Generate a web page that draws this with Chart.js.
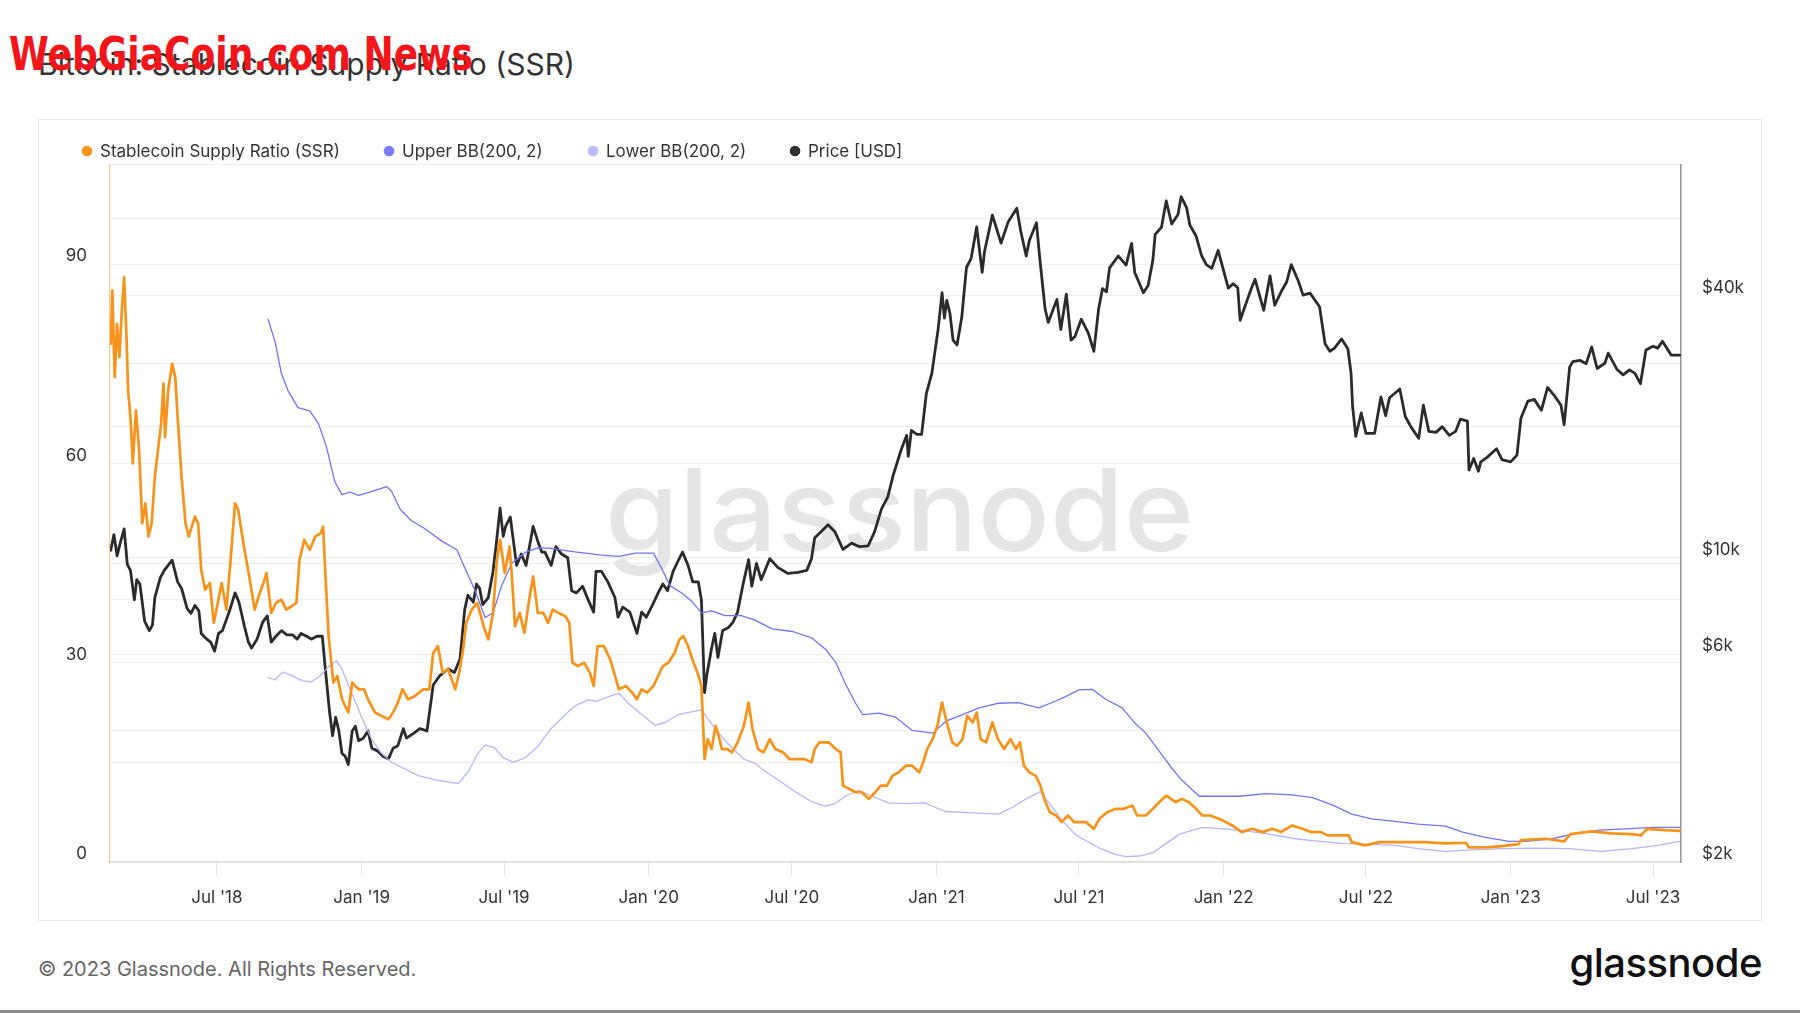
<!DOCTYPE html>
<html>
<head>
<meta charset="utf-8">
<title>Bitcoin: Stablecoin Supply Ratio (SSR)</title>
<script src="https://cdn.jsdelivr.net/npm/chart.js@4.4.0/dist/chart.umd.min.js"></script>
<style>
  html, body { margin: 0; padding: 0; background: #fff; }
  body { width: 1800px; height: 1013px; position: relative; overflow: hidden; font-family: Inter, 'Noto Sans', sans-serif; }
  #brand { position: absolute; left: 9px; top: 31px; font: bold 46px 'Liberation Sans Narrow', 'DejaVu Sans Condensed', sans-serif; line-height: 1; color: #f2161b; white-space: nowrap; transform-origin: left top; z-index: 5; }
  #title { position: absolute; left: 38px; top: 49px; font-size: 30px; line-height: 1; color: #333; white-space: nowrap; }
  #card { position: absolute; left: 38px; top: 119px; width: 1722px; height: 800px; border: 1px solid #e6e6e6; }
  #chartBox { position: absolute; left: 38px; top: 119px; width: 1724px; height: 802px; }
  #footer { position: absolute; left: 38px; top: 959px; font-size: 20px; line-height: 1; color: #666; white-space: nowrap; }
  #logo { position: absolute; right: 38px; top: 943px; font-size: 40px; font-weight: 500; line-height: 1; color: #111; letter-spacing: -0.5px; }
  #bottomLine { position: absolute; left: 0; top: 1010px; width: 1800px; height: 3px; background: #8a8a8a; }
</style>
</head>
<body>
<div id="title">Bitcoin: Stablecoin Supply Ratio (SSR)</div>
<div id="brand">WebGiaCoin.com News</div>
<div id="card"></div>
<div id="chartBox"><canvas id="ssrChart"></canvas></div>
<div id="footer">© 2023 Glassnode. All Rights Reserved.</div>
<div id="logo">glassnode</div>
<div id="bottomLine"></div>

<script>
// Stablecoin Supply Ratio (left axis)
const ssrDates = [
  '2018-02-16','2018-02-18','2018-02-21','2018-02-24','2018-02-27','2018-03-02','2018-03-05','2018-03-08','2018-03-10','2018-03-13',
  '2018-03-16','2018-03-20','2018-03-24','2018-03-28','2018-04-01','2018-04-05','2018-04-09','2018-04-13','2018-04-17','2018-04-21',
  '2018-04-24','2018-04-26','2018-04-30','2018-05-05','2018-05-09','2018-05-12','2018-05-17','2018-05-22','2018-05-26','2018-06-03',
  '2018-06-07','2018-06-11','2018-06-16','2018-06-22','2018-06-27','2018-07-02','2018-07-07','2018-07-13','2018-07-18','2018-07-24',
  '2018-07-28','2018-08-05','2018-08-11','2018-08-18','2018-08-23','2018-08-29','2018-09-02','2018-09-08','2018-09-14','2018-09-21',
  '2018-09-27','2018-10-04','2018-10-10','2018-10-14','2018-10-20','2018-10-27','2018-11-03','2018-11-10','2018-11-13','2018-11-16',
  '2018-11-20','2018-11-26','2018-12-01','2018-12-07','2018-12-15','2018-12-20','2018-12-28',
  '2019-01-04','2019-01-09','2019-01-18','2019-01-26','2019-02-04','2019-02-10','2019-02-16','2019-02-22','2019-03-01','2019-03-10',
  '2019-03-20','2019-03-28','2019-04-02','2019-04-08','2019-04-14','2019-04-21','2019-04-30','2019-05-05','2019-05-10','2019-05-14',
  '2019-05-21','2019-05-28','2019-06-05','2019-06-11','2019-06-17','2019-06-22','2019-06-26','2019-07-02','2019-07-08','2019-07-11',
  '2019-07-15','2019-07-21','2019-07-27','2019-08-02','2019-08-07','2019-08-13','2019-08-20','2019-08-26','2019-09-01','2019-09-08',
  '2019-09-17','2019-09-22','2019-09-26','2019-10-03','2019-10-11','2019-10-18','2019-10-23','2019-10-28','2019-11-05','2019-11-13',
  '2019-11-18','2019-11-24','2019-12-03','2019-12-11','2019-12-17','2019-12-23','2019-12-30',
  '2020-01-07','2020-01-13','2020-01-19','2020-01-26','2020-02-03','2020-02-09','2020-02-14','2020-02-20','2020-02-27','2020-03-03',
  '2020-03-08','2020-03-12','2020-03-16','2020-03-21','2020-03-26','2020-03-30','2020-04-03','2020-04-10','2020-04-16','2020-04-23',
  '2020-05-01','2020-05-07','2020-05-12','2020-05-19','2020-05-26','2020-06-03','2020-06-10','2020-06-20','2020-06-28','2020-07-07',
  '2020-07-17','2020-07-26','2020-07-30','2020-08-05','2020-08-17','2020-08-26','2020-09-01','2020-09-04','2020-09-12','2020-09-20',
  '2020-09-28','2020-10-07','2020-10-15','2020-10-22','2020-10-30','2020-11-06','2020-11-14','2020-11-23','2020-12-01','2020-12-10',
  '2020-12-15','2020-12-20','2020-12-27',
  '2021-01-02','2021-01-08','2021-01-14','2021-01-21','2021-01-27','2021-02-03','2021-02-09','2021-02-16','2021-02-21','2021-02-26',
  '2021-03-05','2021-03-13','2021-03-20','2021-03-28','2021-04-05','2021-04-12','2021-04-17','2021-04-22','2021-04-29','2021-05-07',
  '2021-05-13','2021-05-18','2021-05-25','2021-06-02','2021-06-09','2021-06-17','2021-06-25','2021-07-03','2021-07-10','2021-07-20',
  '2021-07-27','2021-08-06','2021-08-17','2021-08-27','2021-09-07','2021-09-13','2021-09-24','2021-10-03','2021-10-11','2021-10-20',
  '2021-11-01','2021-11-09','2021-11-18','2021-11-27','2021-12-05','2021-12-15','2021-12-26',
  '2022-01-04','2022-01-12','2022-01-24','2022-02-06','2022-02-20','2022-03-04','2022-03-15','2022-03-29','2022-04-11','2022-04-23',
  '2022-05-05','2022-05-13','2022-05-27','2022-06-09','2022-06-13','2022-06-30','2022-07-18','2022-08-05','2022-08-20','2022-09-14',
  '2022-10-10','2022-11-05','2022-11-09','2022-11-30','2022-12-21',
  '2023-01-11','2023-01-14','2023-02-14','2023-03-10','2023-03-18','2023-04-14','2023-05-09','2023-06-04','2023-06-16','2023-06-23',
  '2023-07-16','2023-08-04'
];
const ssrValues = [
  78, 86, 73, 81, 76, 83, 88, 79, 71, 67,
  60, 68, 62, 51, 54, 49, 51, 58, 62, 66,
  72, 64, 71, 75, 73, 67, 58, 51, 49, 52,
  51, 44, 41, 42, 36, 39, 42, 38, 45, 54,
  53, 47, 43, 38, 40, 42, 43.5, 37.5, 39, 39.5,
  38, 38.5, 39, 45.5, 48.5, 47, 49, 49.5, 50.5, 43,
  34, 27, 28, 24.5, 22.5, 27, 26,
  26, 24.5, 22.5, 22, 21.5, 22.5, 24, 26, 24.5, 25,
  26, 26, 31.5, 32.5, 28.5, 29, 26, 28.5, 32, 36,
  38, 39, 35.5, 33.5, 37.5, 45.5, 48.5, 43.5, 47.5, 43,
  35.5, 37.5, 34.5, 39.5, 43, 37.5, 37.5, 36, 38, 37.5,
  37, 36, 30, 29.5, 30, 28.5, 26.5, 32.5, 32.5, 30.5,
  28.5, 26, 26.5, 25.5, 24.5, 26, 25.5,
  26.5, 28, 29.5, 30, 31.5, 33.5, 34, 32.5, 30, 28.5,
  26.5, 15.5, 18.5, 17, 20.5, 19, 17, 17, 16.5, 18,
  20.5, 24, 20, 17, 16.5, 18.5, 17, 16.5, 15.5, 15.5,
  15.5, 15, 17, 18, 18, 17, 16.5, 11.5, 11, 10.5,
  10.5, 9.5, 10.5, 11.5, 11.5, 13, 13.5, 14.5, 14.5, 13.5,
  15, 17, 18.5,
  20.5, 24, 21, 18, 17.5, 18.5, 22, 21, 22.5, 18.5,
  18, 21, 18.5, 17, 18.5, 17, 18, 14.5, 13.5, 13,
  11.5, 9.5, 7.5, 7, 6, 7, 6, 6, 6, 5,
  6.5, 7.5, 8, 8, 8.5, 7, 7, 8, 9, 10,
  9, 9.5, 9, 8, 7, 7, 6.5,
  6, 5.5, 4.5, 5, 4.5, 5, 4.5, 5.5, 5, 4.5,
  4.5, 4, 4, 4, 3, 2.5, 3, 3, 3, 3,
  2.8, 2.9, 2.2, 2.2, 2.4,
  2.7, 3.3, 3.5, 3.1, 4.2, 4.6, 4.3, 4.2, 4.0, 5.0,
  4.8, 4.7
];

// Upper Bollinger band (200, 2)
const upperDates = [
  '2018-09-04','2018-09-13','2018-09-21','2018-09-30','2018-10-12','2018-10-27','2018-11-07','2018-11-17','2018-11-28','2018-12-07',
  '2018-12-17','2018-12-28','2019-01-14','2019-02-02','2019-02-08','2019-02-19','2019-03-05','2019-03-22','2019-04-13','2019-05-02',
  '2019-05-12','2019-05-25','2019-06-07','2019-06-17','2019-06-28','2019-07-11','2019-07-28','2019-08-13','2019-08-30','2019-09-22',
  '2019-10-12','2019-11-02','2019-11-24','2019-12-15','2020-01-07','2020-01-17','2020-01-28','2020-02-12','2020-02-25','2020-03-08',
  '2020-03-21','2020-04-07','2020-04-28','2020-05-15','2020-06-06','2020-07-02','2020-07-27','2020-08-13','2020-08-26','2020-09-08',
  '2020-09-20','2020-09-29','2020-10-20','2020-11-10','2020-12-01','2020-12-27','2021-01-13','2021-02-03','2021-02-24','2021-03-21',
  '2021-04-15','2021-05-11','2021-06-01','2021-06-14','2021-07-01','2021-07-18','2021-08-04','2021-08-25','2021-09-11','2021-09-24',
  '2021-10-11','2021-10-28','2021-11-09','2021-12-01','2021-12-23','2022-01-21','2022-02-24','2022-03-29','2022-04-24','2022-05-19',
  '2022-06-13','2022-07-08','2022-08-07','2022-09-05','2022-10-10','2022-11-01','2022-11-30','2022-12-30','2023-01-20','2023-02-23',
  '2023-03-20','2023-04-23','2023-05-27','2023-06-30','2023-08-04'
];
const upperValues = [
  81.7, 78.3, 73.5, 70.8, 68.4, 67.9, 66, 62.6, 57.2, 55.3,
  55.7, 55.2, 55.8, 56.5, 55.8, 53.1, 51.4, 50.2, 48.3, 47,
  44.3, 40.9, 36.8, 37.5, 41.6, 45, 46.6, 47.3, 47.2, 46.8,
  46.5, 46.2, 46, 46.5, 46.5, 44.3, 41.6, 40.5, 39.2, 37.5,
  37.8, 37.1, 37.1, 36.4, 35.1, 34.7, 33.7, 32, 30, 26.6,
  23.9, 22.2, 22.4, 21.8, 19.8, 19.4, 21.2, 22.2, 23.2, 23.9,
  24, 23.2, 24.2, 24.9, 25.9, 26, 24.5, 23.2, 20.8, 19.4,
  16.7, 14, 12.3, 9.9, 9.9, 9.9, 10.3, 10.1, 9.7, 8.6,
  7.2, 6.5, 6.1, 5.7, 5.4, 4.5, 3.7, 3.1, 3.1, 3.5,
  4.2, 4.8, 5.0, 5.2, 5.2
];

// Lower Bollinger band (200, 2)
const lowerDates = [
  '2018-09-04','2018-09-13','2018-09-17','2018-09-23','2018-10-04','2018-10-17','2018-10-29','2018-11-09','2018-11-19','2018-11-30',
  '2018-12-07','2018-12-19','2019-01-01','2019-01-14','2019-01-26','2019-02-08','2019-02-25','2019-03-14','2019-04-08','2019-05-04',
  '2019-05-17','2019-05-29','2019-06-07','2019-06-19','2019-06-30','2019-07-13','2019-07-28','2019-08-13','2019-08-30','2019-09-17',
  '2019-09-29','2019-10-16','2019-10-27','2019-11-11','2019-11-24','2019-12-06','2019-12-23','2020-01-09','2020-01-22','2020-02-08',
  '2020-02-24','2020-03-08','2020-03-21','2020-04-03','2020-04-20','2020-05-02','2020-05-15','2020-05-24','2020-06-14','2020-07-05',
  '2020-07-26','2020-08-12','2020-08-25','2020-09-07','2020-09-24','2020-10-11','2020-11-01','2020-11-22','2020-12-17','2021-01-12',
  '2021-02-15','2021-03-21','2021-04-07','2021-04-28','2021-05-13','2021-05-24','2021-06-10','2021-06-26','2021-07-01','2021-07-27',
  '2021-08-17','2021-08-30','2021-09-16','2021-10-03','2021-10-20','2021-11-06','2021-11-23','2021-12-05','2021-12-31','2022-01-29',
  '2022-02-28','2022-04-02','2022-05-03','2022-06-01','2022-06-30','2022-08-07','2022-09-05','2022-10-10','2022-11-07','2022-12-21',
  '2023-02-01','2023-03-16','2023-04-26','2023-06-04','2023-07-08','2023-08-04'
];
const lowerValues = [
  27.8, 27.4, 28, 28.6, 28.1, 27.3, 27.1, 28, 29.3, 30.3,
  29, 25.5, 21.8, 18.4, 16.4, 15, 14, 13, 12.3, 11.8,
  13.7, 16.4, 17.6, 17.2, 15.7, 15, 15.7, 17.4, 20.1, 22.2,
  23.5, 24.4, 24.2, 24.9, 25.4, 23.9, 22.2, 20.6, 21, 22.2,
  22.6, 22.9, 20.8, 18.8, 16.7, 15.4, 14.9, 14, 12.3, 10.6,
  9.1, 8.4, 8.8, 9.9, 10.8, 9.9, 8.9, 8.8, 8.9, 7.6,
  7.4, 7.2, 8.2, 9.7, 10.6, 8.9, 6.2, 4.2, 3.8, 2.1,
  1.1, 0.8, 0.9, 1.4, 2.8, 4.2, 4.8, 5.2, 5.0, 4.7,
  4.2, 3.5, 3.1, 2.8, 2.7, 2.5, 2.0, 1.6, 1.8, 2.0,
  2.1, 2.0, 1.6, 2.0, 2.5, 3.1
];

// BTC price in USD (right log axis)
const priceDates = [
  '2018-02-16','2018-02-20','2018-02-24','2018-02-28','2018-03-05','2018-03-09','2018-03-13','2018-03-18','2018-03-21','2018-03-25',
  '2018-03-31','2018-04-06','2018-04-10','2018-04-13','2018-04-20','2018-04-25','2018-05-05','2018-05-12','2018-05-17','2018-05-24',
  '2018-05-29','2018-06-03','2018-06-08','2018-06-11','2018-06-18','2018-06-23','2018-06-28','2018-07-03','2018-07-08','2018-07-17',
  '2018-07-24','2018-07-29','2018-08-05','2018-08-10','2018-08-14','2018-08-21','2018-08-28','2018-09-03','2018-09-08','2018-09-14',
  '2018-09-21','2018-09-28','2018-10-05','2018-10-11','2018-10-16','2018-10-23','2018-10-29','2018-11-05','2018-11-12','2018-11-15',
  '2018-11-19','2018-11-21','2018-11-25','2018-11-29','2018-12-03','2018-12-07','2018-12-11','2018-12-15','2018-12-20','2018-12-24',
  '2018-12-28',
  '2019-01-03','2019-01-09','2019-01-14','2019-01-21','2019-01-28','2019-02-04','2019-02-10','2019-02-16','2019-02-23','2019-02-27',
  '2019-03-08','2019-03-16','2019-03-25','2019-04-02','2019-04-10','2019-04-21','2019-04-29','2019-05-06','2019-05-12','2019-05-16',
  '2019-05-23','2019-05-27','2019-05-31','2019-06-04','2019-06-11','2019-06-17','2019-06-21','2019-06-26','2019-06-30','2019-07-03',
  '2019-07-09','2019-07-17','2019-07-23','2019-07-29','2019-08-07','2019-08-13','2019-08-18','2019-08-22','2019-08-30','2019-09-05',
  '2019-09-12','2019-09-20','2019-09-25','2019-10-01','2019-10-09','2019-10-16','2019-10-23','2019-10-26','2019-11-02','2019-11-10',
  '2019-11-19','2019-11-23','2019-11-29','2019-12-08','2019-12-17','2019-12-23','2019-12-29',
  '2020-01-06','2020-01-13','2020-01-19','2020-01-25','2020-02-01','2020-02-07','2020-02-13','2020-02-20','2020-02-26','2020-03-04',
  '2020-03-08','2020-03-12','2020-03-15','2020-03-21','2020-03-25','2020-03-29','2020-04-04','2020-04-11','2020-04-17','2020-04-23',
  '2020-04-30','2020-05-07','2020-05-11','2020-05-17','2020-05-23','2020-06-03','2020-06-13','2020-06-26','2020-07-09','2020-07-20',
  '2020-07-26','2020-07-30','2020-08-16','2020-08-25','2020-09-04','2020-09-15','2020-09-25','2020-10-06','2020-10-14','2020-10-23',
  '2020-10-31','2020-11-07','2020-11-17','2020-11-24','2020-11-26','2020-11-30','2020-12-07','2020-12-13','2020-12-19','2020-12-26',
  '2021-01-03','2021-01-08','2021-01-11','2021-01-14','2021-01-18','2021-01-22','2021-01-27','2021-02-02','2021-02-08','2021-02-14',
  '2021-02-21','2021-02-28','2021-03-03','2021-03-13','2021-03-24','2021-04-02','2021-04-13','2021-04-18','2021-04-25','2021-04-29',
  '2021-05-08','2021-05-12','2021-05-19','2021-05-23','2021-06-03','2021-06-08','2021-06-15','2021-06-21','2021-06-26','2021-07-04',
  '2021-07-13','2021-07-20','2021-07-26','2021-07-31','2021-08-05','2021-08-09','2021-08-20','2021-08-30','2021-09-06','2021-09-10',
  '2021-09-21','2021-09-27','2021-10-03','2021-10-06','2021-10-14','2021-10-20','2021-10-27','2021-11-04','2021-11-08','2021-11-15',
  '2021-11-19','2021-11-27','2021-12-04','2021-12-10','2021-12-17','2021-12-25','2021-12-31',
  '2022-01-07','2022-01-13','2022-01-19','2022-01-22','2022-01-28','2022-02-05','2022-02-10','2022-02-21','2022-03-01','2022-03-07',
  '2022-03-16','2022-03-22','2022-03-28','2022-04-06','2022-04-12','2022-04-21','2022-04-29','2022-05-03','2022-05-10','2022-05-16',
  '2022-05-22','2022-05-31','2022-06-08','2022-06-12','2022-06-14','2022-06-18','2022-06-25','2022-07-01','2022-07-12','2022-07-20',
  '2022-07-26','2022-07-31','2022-08-13','2022-08-20','2022-08-27','2022-09-06','2022-09-12','2022-09-19','2022-09-28','2022-10-06',
  '2022-10-15','2022-10-23','2022-10-29','2022-11-07','2022-11-09','2022-11-15','2022-11-21','2022-11-24','2022-12-02','2022-12-14',
  '2022-12-21',
  '2023-01-01','2023-01-09','2023-01-14','2023-01-23','2023-01-31','2023-02-09','2023-02-17','2023-02-26','2023-03-06','2023-03-10',
  '2023-03-17','2023-03-21','2023-03-30','2023-04-07','2023-04-14','2023-04-21','2023-05-01','2023-05-05','2023-05-16','2023-05-24',
  '2023-06-01','2023-06-08','2023-06-15','2023-06-22','2023-07-01','2023-07-07','2023-07-13','2023-07-24','2023-08-04'
];
const priceValues = [
  10400, 11300, 10100, 10800, 11650, 9650, 9350, 8000, 8900, 8700,
  7150, 6800, 7000, 8100, 9000, 9350, 9870, 8800, 8500, 7650,
  7450, 7770, 7550, 6700, 6500, 6400, 6100, 6700, 6800, 7550,
  8300, 7900, 6950, 6400, 6200, 6500, 7100, 7350, 6400, 6600,
  6800, 6650, 6650, 6500, 6700, 6600, 6500, 6600, 6600, 5750,
  4850, 4450, 3900, 4300, 4000, 3550, 3500, 3350, 4000, 4100,
  3800,
  3850, 4000, 3650, 3600, 3500, 3450, 3650, 3700, 4050, 3850,
  3950, 4050, 4000, 5100, 5350, 5550, 5450, 5850, 7600, 8200,
  7900, 8700, 8500, 7800, 8100, 9300, 10700, 13000, 11200, 11800,
  12400, 9600, 10200, 9600, 11800, 10900, 10300, 10300, 9600, 10600,
  10200, 10000, 8400, 8300, 8600, 8000, 7500, 9300, 9300, 8800,
  8100, 7300, 7700, 7500, 6700, 7500, 7300,
  7800, 8300, 8700, 8400, 9300, 9800, 10300, 9600, 8800, 8800,
  8000, 4900, 5400, 6200, 6700, 5900, 6800, 6900, 7100, 7500,
  8700, 9900, 8600, 9700, 8900, 9950, 9500, 9200, 9250, 9350,
  9950, 11100, 11900, 11450, 10450, 10800, 10600, 10650, 11450, 12950,
  13800, 15500, 17700, 19100, 17100, 19600, 19200, 19200, 23800, 26500,
  33500, 40600, 35500, 39000, 36400, 31600, 30800, 35600, 46400, 48700,
  57500, 45200, 50500, 61200, 52800, 59000, 63500, 56300, 49300, 53500,
  58800, 49200, 37300, 34700, 39200, 33400, 40300, 31600, 32200, 35300,
  32800, 29800, 37200, 41500, 40800, 46300, 49300, 47000, 52700, 45200,
  40600, 42200, 48200, 55300, 57400, 66000, 58400, 61400, 67500, 63600,
  58100, 54800, 49400, 47100, 46200, 50800, 46300,
  41600, 42600, 41700, 35100, 37700, 41400, 43600, 37000, 44400, 38000,
  41100, 42900, 47100, 43200, 40100, 40500, 38600, 37700, 31000, 29800,
  30300, 31800, 30200, 26600, 22300, 19000, 21500, 19300, 19300, 23400,
  21200, 23300, 24400, 21100, 20000, 18800, 22400, 19500, 19400, 20000,
  19100, 19500, 20800, 20600, 15900, 16900, 15800, 16600, 17000, 17800,
  16800,
  16600, 17200, 20900, 22900, 23100, 21800, 24600, 23500, 22400, 20200,
  27400, 28200, 28400, 27900, 30500, 27200, 28000, 29500, 27100, 26300,
  27000, 26500, 25100, 30000, 30600, 30300, 31400, 29200, 29200
];

// Axis ticks
const xTickDates = ['2018-07-01','2019-01-01','2019-07-01','2020-01-01','2020-07-01','2021-01-01',
                    '2021-07-01','2022-01-01','2022-07-01','2023-01-01','2023-07-01'];
const ssrTickValues = [0, 15, 30, 45, 60, 75, 90, 105];
const ssrTickLabels = ['0', '', '30', '', '60', '', '90', ''];
const priceTickValues = [2000, 4000, 6000, 8000, 10000, 20000, 40000, 60000];
const priceTickLabels = ['$2k', '', '$6k', '', '$10k', '', '$40k', ''];

const monthNames = ['Jan','Feb','Mar','Apr','May','Jun','Jul','Aug','Sep','Oct','Nov','Dec'];
const toTime = d => Date.parse(d + 'T00:00:00Z');
const toPoints = (dates, vals) => dates.map((d, i) => ({ x: toTime(d), y: vals[i] }));

// legend drawn by hand so the dots sit where glassnode puts them
const legendX = [49, 351, 555, 757];
const legendDots = {
    id: 'legendDots',
    afterDraw(chart) {
        const ctx = chart.ctx;
        ctx.save();
        ctx.font = '17px Inter';
        ctx.textBaseline = 'middle';
        chart.data.datasets.forEach((ds, i) => {
            const x = legendX[i];
            ctx.fillStyle = ds.dotColor;
            ctx.beginPath();
            ctx.arc(x, 32, 5.3, 0, Math.PI * 2);
            ctx.fill();
            ctx.fillStyle = '#333';
            ctx.fillText(ds.label, x + 13, 32.5);
        });
        ctx.restore();
    }
};

// big grey "glassnode" watermark behind the lines
const watermark = {
    id: 'watermark',
    beforeDatasetsDraw(chart) {
        const { ctx, chartArea } = chart;
        ctx.save();
        ctx.font = '500 114px Inter';
        const w = ctx.measureText('glassnode').width;
        ctx.translate((chartArea.left + chartArea.right) / 2 + 4, 432);
        ctx.scale(589 / w, 1);
        ctx.fillStyle = '#e5e5e5';
        ctx.textAlign = 'center';
        ctx.textBaseline = 'alphabetic';
        ctx.fillText('glassnode', 0, 0);
        ctx.restore();
    }
};

function buildChart() {
    const brand = document.getElementById('brand');
    brand.style.transform = `scaleX(${464 / brand.offsetWidth})`;

    Chart.defaults.font.family = 'Inter';
    Chart.defaults.color = '#333';

    const ctx = document.getElementById('ssrChart').getContext('2d');
    new Chart(ctx, {
        type: 'line',
        data: {
            datasets: [
                { label: 'Stablecoin Supply Ratio (SSR)', data: toPoints(ssrDates, ssrValues), yAxisID: 'y',
                  borderColor: '#f7931a', dotColor: '#f7931a', borderWidth: 2.7 },
                { label: 'Upper BB(200, 2)', data: toPoints(upperDates, upperValues), yAxisID: 'y',
                  borderColor: '#7373f6', dotColor: '#7b7bff', borderWidth: 1.3 },
                { label: 'Lower BB(200, 2)', data: toPoints(lowerDates, lowerValues), yAxisID: 'y',
                  borderColor: '#b6b6fa', dotColor: '#bcbcff', borderWidth: 1.3 },
                { label: 'Price [USD]', data: toPoints(priceDates, priceValues), yAxisID: 'price',
                  borderColor: '#2b2b2b', dotColor: '#2f2f2f', borderWidth: 2.8 }
            ]
        },
        options: {
            responsive: true,
            maintainAspectRatio: false,
            animation: false,
            layout: { padding: { top: 45.5, left: 0, right: 0, bottom: 0 } },
            elements: {
                point: { radius: 0, hoverRadius: 0 },
                line: { tension: 0, borderJoinStyle: 'round', borderCapStyle: 'round' }
            },
            plugins: { legend: { display: false }, tooltip: { enabled: false } },
            scales: {
                x: {
                    type: 'linear',
                    min: toTime('2018-02-15'),
                    max: toTime('2023-08-05') + 14 * 3600 * 1000,
                    afterBuildTicks: s => { s.ticks = xTickDates.map(d => ({ value: toTime(d) })); },
                    afterFit: s => { s.height = 59; },
                    ticks: {
                        autoSkip: false, maxRotation: 0, padding: 12,
                        font: { size: 17 }, color: '#333',
                        callback: v => {
                            const d = new Date(v);
                            return monthNames[d.getUTCMonth()] + " '" + String(d.getUTCFullYear()).slice(2);
                        }
                    },
                    grid: { drawOnChartArea: false, drawTicks: true, tickLength: 14, color: '#e6e6e6' },
                    border: { color: '#dcdcdc', width: 1.5 }
                },
                y: {
                    position: 'left',
                    min: 0, max: 105,
                    afterBuildTicks: s => { s.ticks = ssrTickValues.map(v => ({ value: v })); },
                    afterFit: s => { s.width = 72; },
                    ticks: {
                        padding: 23, labelOffset: -8, font: { size: 17 }, color: '#333',
                        callback: v => ssrTickLabels[ssrTickValues.indexOf(v)] ?? ''
                    },
                    grid: { color: '#efefef', drawTicks: false },
                    border: { color: 'rgba(247,147,26,0.5)', width: 1.2 }
                },
                price: {
                    type: 'logarithmic',
                    position: 'right',
                    min: 2000, max: 80000,
                    afterBuildTicks: s => { s.ticks = priceTickValues.map(v => ({ value: v })); },
                    afterFit: s => { s.width = 81; },
                    ticks: {
                        padding: 21, labelOffset: -8, font: { size: 17 }, color: '#333',
                        callback: v => priceTickLabels[priceTickValues.indexOf(v)] ?? ''
                    },
                    grid: { color: '#efefef', drawTicks: false },
                    border: { color: '#9a9a9a', width: 1.6 }
                }
            }
        },
        plugins: [watermark, legendDots]
    });
}

Promise.all([
    document.fonts.load('16px Inter'),
    document.fonts.load('500 40px Inter'),
    document.fonts.load('bold 46px "Liberation Sans Narrow"')
]).catch(() => {}).then(buildChart);
</script>
</body>
</html>
